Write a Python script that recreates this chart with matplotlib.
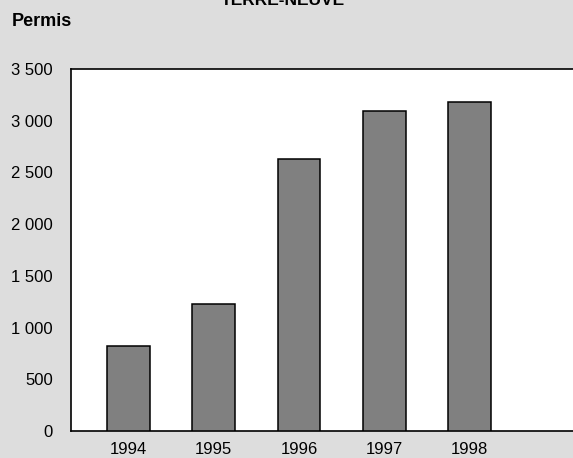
import matplotlib
matplotlib.use("Agg")
import matplotlib.pyplot as plt
from matplotlib.ticker import FuncFormatter

years = ["1994", "1995", "1996", "1997", "1998"]
permis = [819, 1226, 2628, 3093, 3180]
yticks = [0, 500, 1000, 1500, 2000, 2500, 3000, 3500]

FONT = ['Liberation Sans Narrow', 'Liberation Sans', 'DejaVu Sans']
plt.rcParams['font.family'] = FONT

W, H = 573, 458
fig = plt.figure(figsize=(W / 100, H / 100), dpi=100, facecolor='#dddddd')
left, right, top, bottom = 71, 580, 69, 431
ax = fig.add_axes([left / W, 1 - bottom / H, (right - left) / W, (bottom - top) / H])
ax.set_facecolor('white')

x = list(range(len(years)))
ax.bar(x, permis, width=0.5, color='#808080', edgecolor='black', linewidth=1.1, zorder=3)

ax.set_ylim(0, 3500)
ax.set_xlim(-0.674, -0.674 + (right - left) / 85.3)
ax.set_yticks(yticks)
ax.yaxis.set_major_formatter(FuncFormatter(lambda v, p: f"{int(v):,}".replace(",", " ")))
ax.set_xticks(x)
ax.set_xticklabels(years)
ax.tick_params(axis='both', length=0, labelsize=12, colors='black')
ax.tick_params(axis='y', pad=13)
ax.tick_params(axis='x', pad=8)
for s in ax.spines.values():
    s.set_color('black')
    s.set_linewidth(1.2)

fig.text(12 / W, 1 - 22 / H, "Permis", fontsize=13, fontweight='bold', ha='left', va='center')
fig.text(283 / W, 1 - 5 / H, "TERRE-NEUVE", fontsize=12.5, fontweight='bold', ha='center', va='baseline')

fig.savefig("out.png", dpi=100, facecolor=fig.get_facecolor())
